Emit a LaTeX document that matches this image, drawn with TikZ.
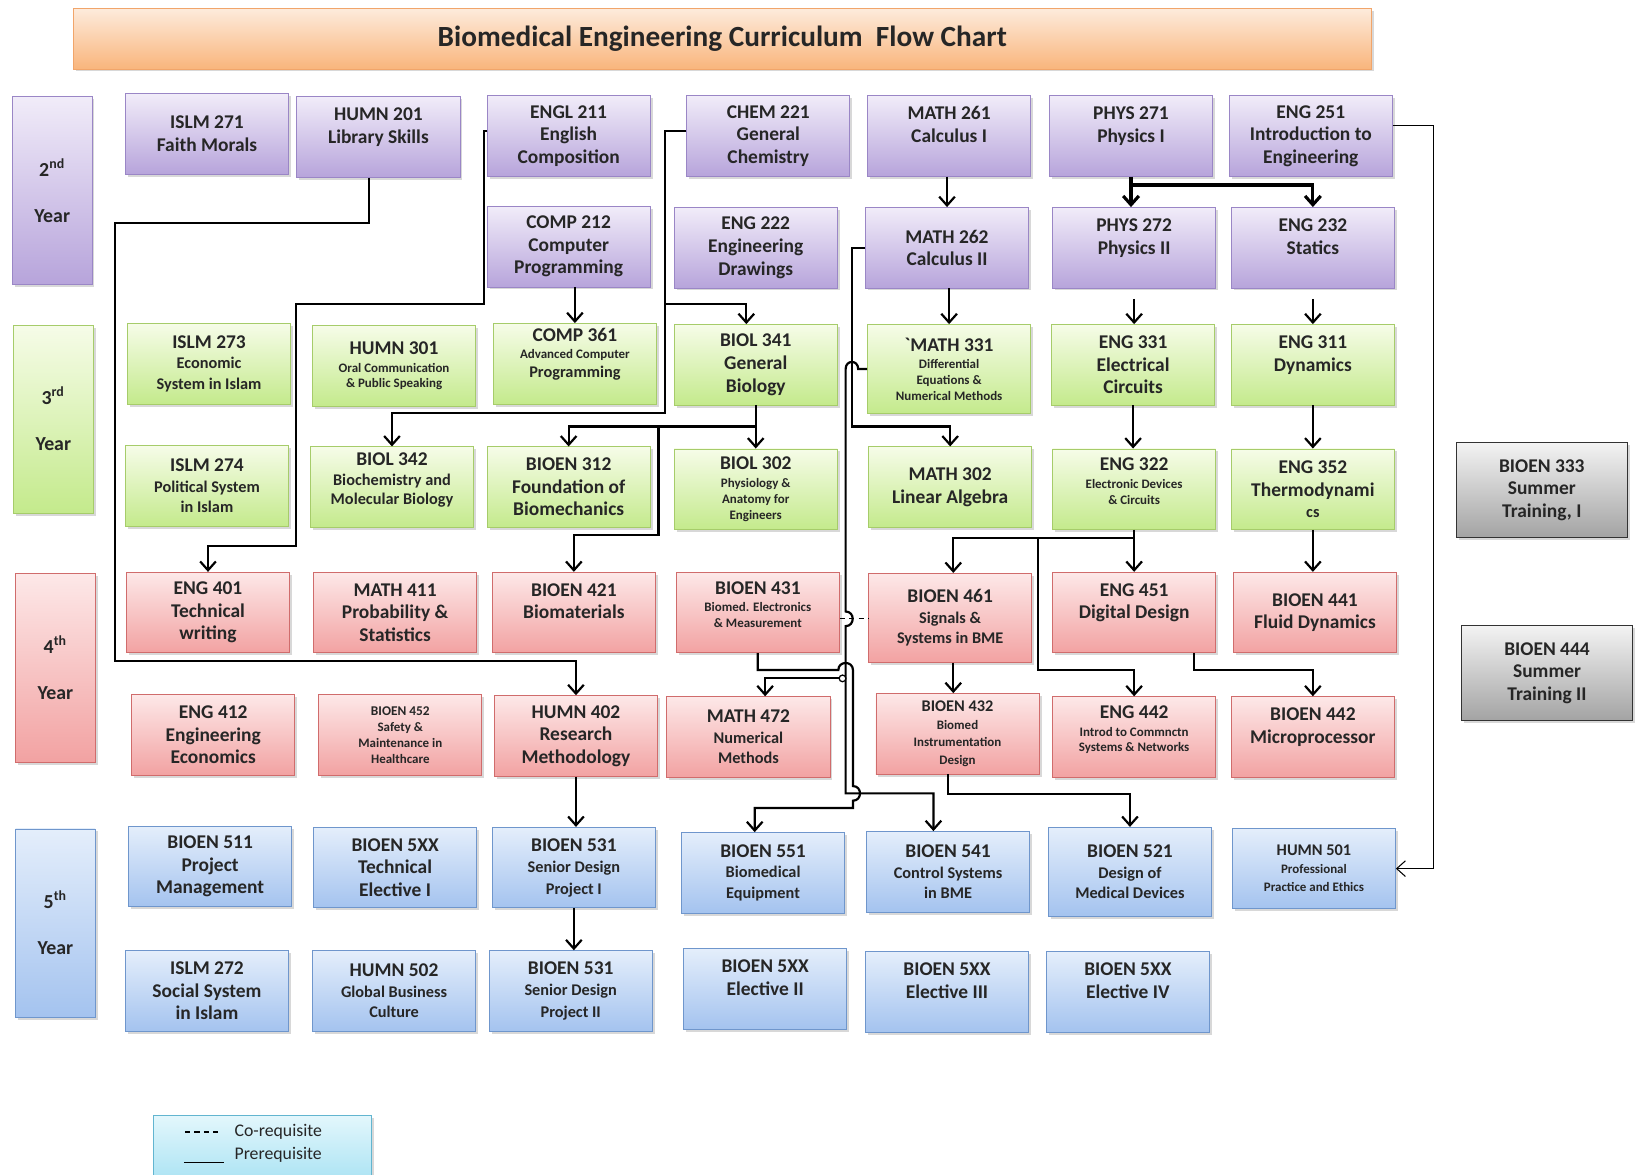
\documentclass[tikz,border=0pt]{standalone}
\usepackage{fontspec}
\setmainfont{Carlito}
\usetikzlibrary{arrows.meta,shadows}

\definecolor{ptop}{HTML}{F1ECF9}
\definecolor{pbot}{HTML}{B7A4DB}
\definecolor{pline}{HTML}{9A86C6}
\definecolor{gtop}{HTML}{F6FCE8}
\definecolor{gbot}{HTML}{C4EA8C}
\definecolor{gline}{HTML}{A6CC6A}
\definecolor{rtop}{HTML}{FDE8E8}
\definecolor{rbot}{HTML}{F2A2A2}
\definecolor{rline}{HTML}{D06C6C}
\definecolor{btop}{HTML}{E4EEFB}
\definecolor{bbot}{HTML}{A4C3EF}
\definecolor{bline}{HTML}{6F96CC}
\definecolor{stop}{HTML}{F3F3F3}
\definecolor{sbot}{HTML}{A3A3A3}
\definecolor{otop}{HTML}{FDEBDC}
\definecolor{obot}{HTML}{F9B57C}
\definecolor{oline}{HTML}{F1A56A}
\definecolor{ltop}{HTML}{E3F7FC}
\definecolor{lbot}{HTML}{A8E2F3}
\definecolor{lline}{HTML}{62B5D0}
\definecolor{txt}{HTML}{262626}

\newcommand{\subsm}{\fontsize{6.2}{7.6}\selectfont}
\newcommand{\submd}{\fontsize{7.8}{9.6}\selectfont}

\tikzset{
  course/.style={draw, minimum width=78pt, minimum height=38.5pt, inner sep=1pt,
    align=center, text=txt, font=\bfseries\fontsize{9.3}{10.8}\selectfont,
    drop shadow={opacity=.3, shadow xshift=1.2pt, shadow yshift=-1.2pt}},
  yrtwo/.style={course, draw=pline, top color=ptop, bottom color=pbot},
  yrthree/.style={course, draw=gline, top color=gtop, bottom color=gbot},
  yrfour/.style={course, draw=rline, top color=rtop, bottom color=rbot},
  yrfive/.style={course, draw=bline, top color=btop, bottom color=bbot},
  summer/.style={course, draw=black!80, top color=stop, bottom color=sbot, minimum width=81.5pt, minimum height=45.5pt},
  yearlbl/.style={minimum width=38pt, minimum height=90pt, font=\bfseries\fontsize{9.5}{11}\selectfont},
  pre/.style={line width=1.05pt, -{Straight Barb[length=4.2pt,width=7.5pt]}},
  coreq/.style={line width=0.6pt, dash pattern=on 2.5pt off 2pt},
}

\begin{document}
\begin{tikzpicture}[x=0.5pt,y=-0.5pt]
\useasboundingbox (0,0) rectangle (1568,1124);
\fill[white] (0,0) rectangle (1568,1124);

%title
\node[course, draw=oline, top color=otop, bottom color=obot, minimum width=621pt, minimum height=29pt,
  font=\bfseries\fontsize{14}{16}\selectfont] (title) at (691,37) {Biomedical Engineering Curriculum\ \ Flow Chart};

%years
\node[yrtwo, yearlbl] (ytwo) at (50,182) {2\textsuperscript{nd}\\[11pt]Year};
\node[yrthree, yearlbl] (ythree) at (51,401) {3\textsuperscript{rd}\\[11pt]Year};
\node[yrfour, yearlbl] (yfour) at (53,639) {4\textsuperscript{th}\\[11pt]Year};
\node[yrfive, yearlbl] (yfive) at (53,883) {5\textsuperscript{th}\\[11pt]Year};

%2nd year
\node[yrtwo] (islm271) at (198,128) {ISLM 271\\Faith Morals};
\node[yrtwo] (humn201) at (362,131) {HUMN 201\\Library Skills\\~};
\node[yrtwo] (engl211) at (544,130) {ENGL 211\\English\\Composition};
\node[yrtwo] (chem221) at (735,130) {CHEM 221\\General\\Chemistry};
\node[yrtwo] (math261) at (908,130) {MATH 261\\Calculus I\\~};
\node[yrtwo] (phys271) at (1082,130) {PHYS 271\\Physics I\\~};
\node[yrtwo] (eng251) at (1254,130) {ENG 251\\Introduction to\\Engineering};
\node[yrtwo] (comp212) at (544,236) {COMP 212\\Computer\\Programming};
\node[yrtwo] (eng222) at (723,237) {ENG 222\\Engineering\\Drawings};
\node[yrtwo] (math262) at (906,237) {MATH 262\\Calculus II};
\node[yrtwo] (phys272) at (1085,237) {PHYS 272\\Physics II\\~};
\node[yrtwo] (eng232) at (1256,237) {ENG 232\\Statics\\~};

%3rd year
\node[yrthree] (islm273) at (200,348) {ISLM 273\\[-1pt]\submd Economic\\[-1pt]\submd System in Islam};
\node[yrthree] (humn301) at (377,350) {HUMN 301\\[-2.3pt]\subsm Oral Communication\\[-3.3pt]\subsm \& Public Speaking};
\node[yrthree] (comp361) at (550,348) {COMP 361\\[-2.3pt]\subsm Advanced Computer\\[-2pt]\submd Programming\\~};
\node[yrthree] (biol341) at (723,349) {BIOL 341\\General\\Biology};
\node[yrthree, minimum height=42.5pt] (math331) at (908,353) {\textasciigrave MATH 331\\[-2.3pt]\subsm Differential\\[-3.3pt]\subsm Equations \&\\[-3.3pt]\subsm Numerical Methods};
\node[yrthree] (eng331) at (1084,349) {ENG 331\\Electrical\\Circuits};
\node[yrthree] (eng311) at (1256,349) {ENG 311\\Dynamics\\~};
\node[yrthree] (islm274) at (198,465) {ISLM 274\\[-1pt]\submd Political System\\[-1pt]\submd in Islam};
\node[yrthree] (biol342) at (375,466) {BIOL 342\\[-1.5pt]\submd Biochemistry and\\[-1.5pt]\submd Molecular Biology\\[-3pt]~};
\node[yrthree] (bioen312) at (544,466) {BIOEN 312\\Foundation of\\Biomechanics};
\node[yrthree] (biol302) at (723,468) {BIOL 302\\[-2.3pt]\subsm Physiology \&\\[-3.3pt]\subsm Anatomy for\\[-3.3pt]\subsm Engineers};
\node[yrthree] (math302) at (909,466) {MATH 302\\Linear Algebra};
\node[yrthree] (eng322) at (1085,468) {ENG 322\\[-2.3pt]\subsm Electronic Devices\\[-3.3pt]\subsm \& Circuits\\[-3pt]~};
\node[yrthree] (eng352) at (1256,468) {ENG 352\\Thermodynami\\[-1pt]\submd cs};
\node[summer] (bioen333) at (1475,469) {BIOEN 333\\Summer\\Training, I};

%4th year
\node[yrfour] (eng401) at (199,586) {ENG 401\\Technical\\writing};
\node[yrfour] (math411) at (378,586) {MATH 411\\Probability \&\\Statistics};
\node[yrfour] (bioen421) at (549,586) {BIOEN 421\\Biomaterials\\~};
\node[yrfour] (bioen431) at (725,586) {BIOEN 431\\[-2.3pt]\subsm Biomed. Electronics\\[-3.3pt]\subsm \& Measurement\\[-3pt]~};
\node[yrfour, minimum height=42.5pt] (bioen461) at (909,591) {BIOEN 461\\[-1pt]\submd Signals \&\\[-1pt]\submd Systems in BME};
\node[yrfour] (eng451) at (1085,586) {ENG 451\\Digital Design\\~};
\node[yrfour] (bioen441) at (1258,586) {BIOEN 441\\Fluid Dynamics};
\node[summer] (bioen444) at (1480,644) {BIOEN 444\\Summer\\Training II};
\node[yrfour] (eng412) at (204,703) {ENG 412\\Engineering\\Economics};
\node[yrfour, font=\bfseries\fontsize{6.4}{7.6}\selectfont] (bioen452) at (383,703) {BIOEN 452\\\subsm Safety \&\\\subsm Maintenance in\\\subsm Healthcare};
\node[yrfour] (humn402) at (551,704) {HUMN 402\\Research\\Methodology};
\node[yrfour] (math472) at (716,705) {MATH 472\\[-1pt]\submd Numerical\\[-1pt]\submd Methods};
\node[yrfour, font=\bfseries\fontsize{7.8}{8.4}\selectfont] (bioen432) at (916,702) {BIOEN 432\\\subsm Biomed\\\subsm Instrumentation\\\subsm Design};
\node[yrfour] (eng442) at (1085,705) {ENG 442\\[-2.3pt]\subsm Introd to Commnctn\\[-3.3pt]\subsm Systems \& Networks\\[-3pt]~};
\node[yrfour] (bioen442) at (1256,705) {BIOEN 442\\Microprocessor\\~};

%5th year
\node[yrfive] (bioen511) at (201,829) {BIOEN 511\\Project\\Management};
\node[yrfive] (bioen5xxa) at (378,830) {BIOEN 5XX\\Technical\\Elective I};
\node[yrfive] (bioen531a) at (549,830) {BIOEN 531\\[-0.5pt]\submd Senior Design\\[-0.5pt]\submd Project I};
\node[yrfive] (bioen551) at (730,835) {BIOEN 551\\[-1pt]\submd Biomedical\\[-1pt]\submd Equipment};
\node[yrfive] (bioen541) at (907,834) {BIOEN 541\\[-1pt]\submd Control Systems\\[-1pt]\submd in BME};
\node[yrfive, minimum height=42.5pt] (bioen521) at (1081,834) {BIOEN 521\\[-1pt]\submd Design of\\[-1pt]\submd Medical Devices};
\node[yrfive, font=\bfseries\fontsize{7.8}{8.6}\selectfont] (humn501) at (1257,831) {HUMN 501\\\subsm Professional\\\subsm Practice and Ethics};
\node[yrfive] (islm272) at (198,948) {ISLM 272\\Social System\\in Islam};
\node[yrfive] (humn502) at (377,948) {HUMN 502\\[-1pt]\submd Global Business\\[-1pt]\submd Culture};
\node[yrfive] (bioen531b) at (546,948) {BIOEN 531\\[-0.5pt]\submd Senior Design\\[-0.5pt]\submd Project II};
\node[yrfive] (bioen5xxb) at (732,946) {BIOEN 5XX\\Elective II\\~};
\node[yrfive] (bioen5xxc) at (906,949) {BIOEN 5XX\\Elective III\\~};
\node[yrfive] (bioen5xxd) at (1079,949) {BIOEN 5XX\\Elective IV\\~};

%legend
\node[course, draw=lline, top color=ltop, bottom color=lbot, minimum width=104pt, minimum height=33pt] (legend) at (251,1100) {};
\node[anchor=west, inner sep=0pt, text=txt, font=\fontsize{8.5}{10}\selectfont] (corq) at (224,1083) {Co-requisite};
\node[anchor=west, inner sep=0pt, text=txt, font=\fontsize{8.5}{10}\selectfont] (prrq) at (224,1105) {Prerequisite};
\draw[coreq] ([xshift=-23.5pt]corq.west) -- ++(16pt,0);
\draw[line width=0.6pt] ([xshift=-24pt,yshift=-3.5pt]prrq.west) -- ++(19pt,0);

%prerequisites
\draw[pre] ([xshift=-4.5pt]humn201.south) |- (110,213) -- (110,632) -| (humn402.north);
\draw[pre] ([yshift=2.5pt]engl211.west) -| (463,291) -| (283,522) -| (eng401.north);
\draw[pre] ([yshift=2.5pt]chem221.west) -| (636,395) -| (biol342.north);
\draw[pre] (636,291) -| ([xshift=-4.5pt]biol341.north);
\draw[pre] (comp212.south -| comp361.north) -- (comp361.north);
\draw[pre] (biol341.south) -- (biol341.south |- biol302.north);
\draw[pre] (biol341.south |- 0,408) -| (bioen312.north);
\draw[pre] (630,408) -- (630,512) -| (bioen421.north);
\draw[pre] (math261.south -| math262.north) -- (math262.north);
\draw[pre, line width=1.5pt] (phys271.south) -- (phys271.south |- phys272.north);
\draw[pre, line width=1.5pt] (phys271.south |- 0,177) -| (eng232.north);
\draw[pre] (math262.south -| math331.north) -- (math331.north);
\draw[pre] ([yshift=-5pt]phys272.south) -- (phys272.south |- eng331.north);
\draw[pre] ([yshift=-5pt]eng232.south) -- (eng232.south |- eng311.north);
\draw[pre] (eng331.south) -- (eng331.south |- eng322.north);
\draw[pre] (eng311.south) -- (eng311.south |- eng352.north);
\draw[pre] (eng352.south) -- (eng352.south |- bioen441.north);
\draw[pre] (eng322.south) -- (eng322.south |- eng451.north);
\draw[pre] (eng322.south |- 0,515) -| ([xshift=1.5pt]bioen461.north);
\draw[pre] (993,515) -- (993,641) -| (eng442.north);
\draw[pre] ([xshift=28.5pt]eng451.south) -- ++(0,16) -| (bioen442.north);
\draw[pre] ([xshift=1.5pt]bioen461.south) -- ([xshift=1.5pt]bioen461.south |- bioen432.north);
\draw[pre] ([xshift=-4.5pt]bioen432.south) -- ++(0,19) -| (bioen521.north);
\draw[pre] (humn402.south) -- (humn402.south |- bioen531a.north);
\draw[pre] (bioen531a.south) -- (bioen531a.south |- bioen531b.north);
\draw[pre, line width=0.5pt] ([yshift=5pt]eng251.east) -| ([xshift=18pt]humn501.east) -- (humn501.east);
\draw[pre] (math262.west) -| (815,408) -| (math302.north);

%crossing lines round BIOEN 431
\draw[pre] (math331.west) -- (821,353) .. controls (821,344) and (809,344) .. (809,353) -- (809,585)
  .. controls (818,585) and (818,599) .. (809,599) -- (809,759) -| ([xshift=-7pt]bioen541.north);
\draw[pre] (809,649) -| ([xshift=8pt]math472.north);
\draw[fill=white, line width=0.6pt] (806,649) circle (1.6pt);
\draw[pre] (bioen431.south) |- (802,641) .. controls (802,632) and (816,632) .. (816,641) -- (816,752)
  .. controls (825,752) and (825,766) .. (816,766) -- (816,773) -| ([xshift=-4pt]bioen551.north);
\draw[coreq] ([yshift=-3pt]bioen431.east) -- ([yshift=-3pt]bioen431.east -| bioen461.west);

\end{tikzpicture}
\end{document}
